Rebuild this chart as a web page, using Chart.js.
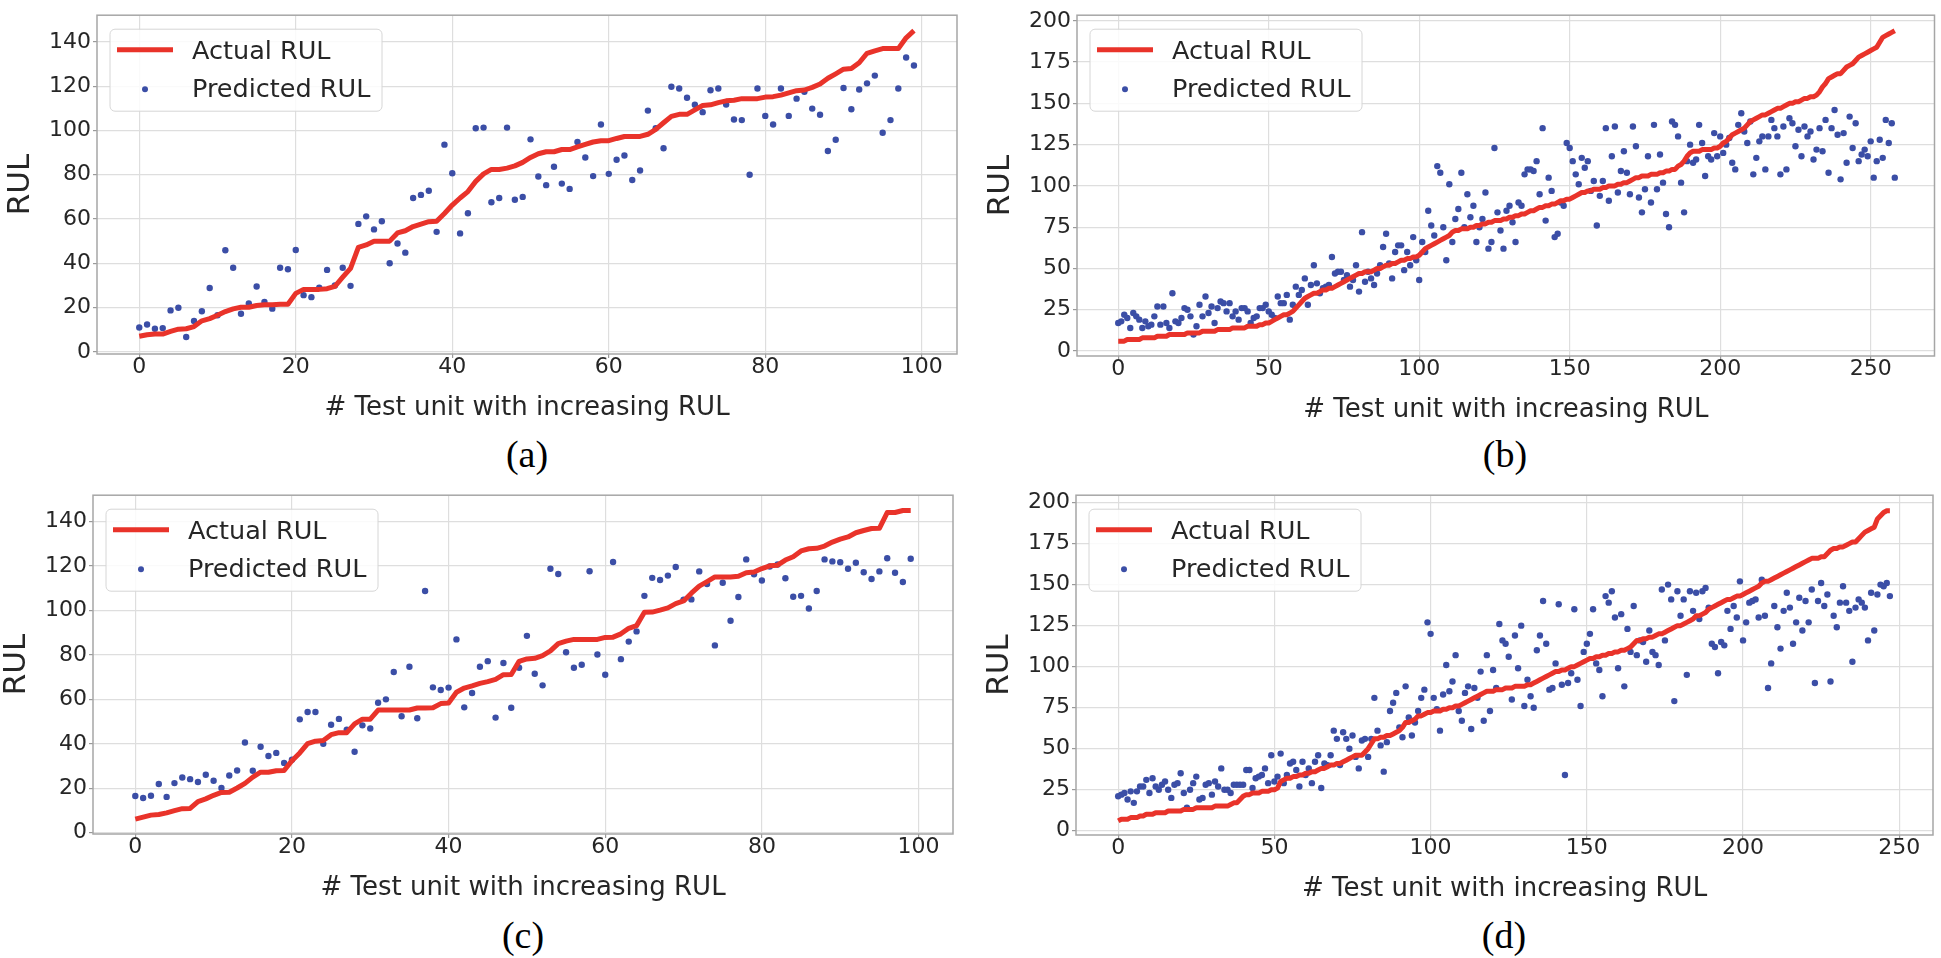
<!DOCTYPE html>
<html>
<head>
<meta charset="utf-8">
<title>RUL predictions</title>
<script src="https://cdn.jsdelivr.net/npm/chart.js@4.4.0/dist/chart.umd.min.js"></script>
<style>
  html, body { margin: 0; padding: 0; background: #fff; }
  body { width: 1941px; height: 958px; position: relative; overflow: hidden; }
  .panel { position: absolute; }
  .caption {
    position: absolute;
    font-family: "Liberation Serif", "Times New Roman", serif;
    font-size: 38px;
    line-height: 38px;
    color: #000;
    transform: translate(-50%, -50%);
  }
</style>
</head>
<body>
<div class="panel" id="boxA" style="left:0px;top:0px;width:960px;height:424px"><canvas id="chartA"></canvas></div>
<div class="panel" id="boxB" style="left:980px;top:0px;width:961px;height:426px"><canvas id="chartB"></canvas></div>
<div class="panel" id="boxC" style="left:-4px;top:480px;width:960px;height:424px"><canvas id="chartC"></canvas></div>
<div class="panel" id="boxD" style="left:979px;top:480px;width:962px;height:425px"><canvas id="chartD"></canvas></div>
<div class="caption" id="capA" style="left:527px;top:454px"></div>
<div class="caption" id="capB" style="left:1505px;top:454px"></div>
<div class="caption" id="capC" style="left:523px;top:935px"></div>
<div class="caption" id="capD" style="left:1504px;top:935px"></div>
<script>
// texts
const seriesLabels = ['Actual RUL', 'Predicted RUL'];
const xTitle = '# Test unit with increasing RUL';
const yTitle = 'RUL';
const captions = ['(a)', '(b)', '(c)', '(d)'];

// tick labels
const xTicksAC = [0, 20, 40, 60, 80, 100];
const yTicksAC = [0, 20, 40, 60, 80, 100, 120, 140];
const xTicksBD = [0, 50, 100, 150, 200, 250];
const yTicksBD = [0, 25, 50, 75, 100, 125, 150, 175, 200];

// (a) 100 test units
const actualA = [
  7, 7.7, 8, 8, 9.2, 10.2, 10.4, 11.4, 14, 15,
  16.5, 18.2, 19.4, 20.1, 20.1, 20.9, 21.3, 21.3, 21.5, 21.5,
  26.4, 28.2, 28.2, 28.2, 28.5, 29.6, 33.7, 37.7, 47.2, 48.3,
  50, 50, 50, 53.7, 54.7, 56.6, 57.7, 58.8, 59, 62.5,
  66.3, 69.5, 72.4, 77, 80.4, 82.4, 82.4, 83, 84, 85.6,
  87.8, 89.5, 90.4, 90.4, 91.4, 91.4, 92.6, 93.7, 94.8, 95.4,
  95.4, 96.4, 97.3, 97.3, 97.3, 98.3, 100.5, 103.5, 106.4, 107.3,
  107.3, 109.3, 111.3, 111.6, 112.6, 113.4, 113.7, 114.4, 114.4, 114.4,
  115.1, 115.3, 116, 117, 118, 118.3, 119.5, 121, 123.6, 125.6,
  127.7, 128, 130.6, 134.9, 136, 137, 137, 137, 141.9, 145.1
];
const predictedA = [
  11, 12.3, 10.4, 10.7, 18.7, 19.9, 6.7, 13.9, 18.3, 28.8,
  16.5, 45.9, 38, 17.2, 21.8, 29.5, 22.5, 19.5, 38, 37.3,
  46, 25.6, 24.7, 29, 37, 30, 38, 29.8, 57.8, 61.2,
  55.3, 59, 40, 48.9, 44.8, 69.5, 70.9, 72.8, 54.2, 93.6,
  80.7, 53.5, 62.6, 101, 101.3, 67.6, 69.5, 101.3, 68.7, 70,
  96, 79.2, 75.3, 83.6, 76, 73.6, 94.8, 87.8, 79.4, 102.7,
  80.4, 86.8, 88.7, 77.6, 81.9, 109, 101, 92, 119.8, 119,
  114.8, 111.6, 108.3, 118.2, 119, 111.7, 105, 104.7, 80, 119,
  106.6, 102.7, 119, 106.6, 114.4, 117.5, 109.9, 107.1, 90.7, 95.8,
  119.2, 109.6, 118.5, 121.3, 124.8, 99, 104.7, 119, 133, 129.4
];

// (b) 259 test units
const actualB = [
  6, 6, 6, 7, 7, 7, 7, 7, 8, 8,
  8, 8, 8, 9, 9, 9, 9, 10, 10, 10,
  10, 10, 10, 11, 11, 11, 11, 11, 12, 12,
  12, 12, 12, 13, 13, 13, 13, 13, 14, 14,
  14, 14, 14, 15, 15, 15, 15, 16, 16, 17,
  17, 18, 19, 20, 21, 22, 22, 23, 24, 26,
  28, 30, 32, 33, 34, 35, 35, 36, 37, 37,
  38, 38, 39, 40, 41, 42, 43, 44, 45, 46,
  47, 47, 48, 48, 48, 49, 50, 50, 51, 52,
  52, 53, 53, 54, 55, 55, 56, 56, 57, 57,
  58, 60, 62, 63, 64, 65, 66, 67, 68, 69,
  70, 72, 73, 73, 74, 74, 74, 75, 75, 76,
  76, 77, 77, 78, 78, 79, 79, 79, 80, 80,
  81, 81, 82, 82, 83, 83, 84, 85, 85, 86,
  87, 87, 88, 88, 89, 89, 90, 91, 91, 92,
  92, 93, 94, 95, 96, 96, 97, 97, 98, 98,
  98, 99, 99, 100, 100, 100, 101, 101, 102, 102,
  103, 104, 105, 105, 106, 106, 106, 107, 107, 107,
  108, 108, 109, 109, 110, 110, 112, 113, 115, 118,
  120, 121, 121, 121, 122, 122, 122, 122, 123, 123,
  124, 126, 127, 129, 131, 132, 133, 134, 135, 137,
  139, 140, 141, 142, 143, 143, 144, 145, 146, 147,
  147, 148, 149, 150, 150, 151, 151, 152, 153, 153,
  154, 154, 155, 157, 160, 162, 165, 166, 167, 168,
  168, 170, 172, 173, 174, 176, 178, 179, 180, 181,
  182, 183, 184, 187, 190, 191, 192, 193, 194
];
const predictedB = [
  17, 18, 22, 20, 14, 23, 21, 19, 14, 18,
  15, 16, 21, 27, 16, 27, 17, 14, 35, 18,
  17, 20, 26, 25, 21, 10, 15, 28, 21, 33,
  23, 27, 17, 26, 30, 29, 24, 29, 21, 24,
  19, 26, 26, 24, 17, 20, 21, 26, 26, 28,
  24, 22, 20, 33, 29, 29, 34, 19, 28, 39,
  34, 37, 44, 28, 40, 52, 41, 35, 38, 39,
  40, 57, 47, 48, 48, 43, 46, 39, 43, 52,
  36, 72, 42, 48, 44, 40, 47, 52, 63, 71,
  53, 44, 60, 64, 64, 49, 60, 52, 69, 55,
  43, 66, 60, 85, 76, 70, 112, 108, 75, 55,
  101, 66, 80, 86, 108, 75, 95, 81, 88, 66,
  75, 80, 96, 62, 66, 123, 84, 73, 62, 85,
  88, 78, 66, 90, 88, 107, 110, 110, 109, 115,
  95, 135, 79, 105, 97, 69, 71, 90, 88, 126,
  123, 115, 107, 101, 117, 111, 115, 97, 103, 76,
  94, 103, 135, 91, 118, 136, 96, 109, 121, 108,
  95, 136, 124, 93, 84, 98, 118, 90, 137, 98,
  119, 102, 83, 75, 139, 137, 130, 102, 84, 115,
  125, 114, 116, 137, 126, 106, 118, 116, 132, 118,
  130, 120, 125, 129, 114, 110, 137, 144, 133, 126,
  139, 107, 117, 127, 130, 110, 130, 140, 135, 130,
  107, 136, 110, 141, 138, 124, 134, 118, 136, 130,
  133, 116, 122, 135, 121, 140, 108, 135, 146, 131,
  104, 132, 114, 142, 123, 138, 115, 119, 122, 118,
  127, 105, 115, 128, 117, 140, 126, 138, 105
];

// (c) 100 test units
const actualC = [
  6.1, 7, 7.9, 8.2, 8.9, 9.9, 10.8, 10.9, 14, 15.2,
  16.8, 18.1, 18.2, 20.1, 22.2, 25, 27.2, 27.2, 27.9, 28,
  32.4, 35.9, 40.1, 41.2, 41.5, 44.1, 45, 45, 49, 51.1,
  51.1, 55.2, 55.2, 55.2, 55.2, 55.2, 56.1, 56.1, 56.2, 58.1,
  58.4, 63.2, 65.1, 66.1, 67.2, 68, 69, 71.1, 71.2, 77.1,
  78.2, 78.5, 79.7, 81.8, 85.1, 86.2, 87, 87, 87, 87,
  87.9, 88, 89.5, 92, 93.2, 99.2, 99.3, 100.2, 101.2, 103.1,
  104.3, 107.8, 111, 113, 115.1, 115.1, 115.1, 115.4, 117, 117.3,
  118.9, 120.1, 120.4, 122.7, 124.2, 126.8, 127.8, 128, 129, 130.8,
  132.1, 133.1, 135, 136, 136.9, 137, 144.1, 144.1, 145, 145
];
const predictedC = [
  16.5, 15.6, 16.6, 21.9, 16.1, 22.3, 24.8, 24.1, 22.8, 26.1,
  23.4, 20.1, 25.7, 28, 40.6, 27.9, 38.7, 34.5, 35.9, 31.4,
  32.8, 51, 54.3, 54.3, 40, 48.6, 51.2, 46.4, 36.4, 48.3,
  46.9, 58.5, 60, 72.3, 52.4, 74.7, 51.5, 108.8, 65.4, 64.2,
  65.3, 87, 56.4, 62.9, 74.7, 77.2, 51.8, 76.4, 56.2, 74.2,
  88.6, 71.5, 66.3, 118.8, 116.4, 81.2, 74.2, 75.6, 117.7, 80.2,
  71.1, 121.8, 78.1, 86, 90.6, 106.6, 114.7, 113.7, 115.7, 119.6,
  104.9, 105, 117.6, 111.9, 84.3, 112.5, 95.4, 106.1, 123, 116.3,
  113.5, 119.8, 120.7, 114.5, 106.2, 106.6, 100.9, 108.8, 123, 122.1,
  121.7, 118.8, 121.5, 117.2, 114.2, 117.6, 123.5, 117, 112.8, 123.3
];

// (d) 248 test units
const actualD = [
  6, 7, 7, 7, 8, 8, 8, 9, 9, 10,
  10, 10, 11, 11, 11, 11, 12, 12, 12, 12,
  12, 13, 13, 13, 13, 14, 14, 14, 14, 14,
  14, 15, 15, 15, 15, 15, 16, 17, 17, 19,
  21, 22, 22, 23, 23, 23, 24, 24, 24, 25,
  25, 26, 30, 31, 32, 32, 33, 33, 34, 34,
  35, 35, 36, 36, 37, 38, 38, 39, 40, 40,
  41, 41, 42, 43, 44, 45, 46, 46, 46, 48,
  50, 53, 56, 56, 57, 57, 58, 58, 59, 60,
  61, 63, 66, 66, 67, 68, 70, 70, 71, 72,
  72, 73, 73, 73, 74, 74, 75, 75, 76, 76,
  77, 78, 79, 80, 81, 82, 83, 84, 85, 85,
  85, 86, 86, 86, 87, 87, 87, 88, 88, 88,
  88, 89, 89, 90, 91, 92, 93, 94, 95, 96,
  97, 97, 98, 98, 99, 100, 100, 101, 102, 103,
  104, 105, 105, 106, 106, 107, 107, 108, 108, 109,
  109, 110, 110, 111, 112, 114, 116, 116, 117, 117,
  118, 118, 119, 120, 120, 121, 122, 123, 124, 125,
  125, 126, 127, 128, 129, 131, 131, 132, 133, 135,
  136, 137, 138, 139, 140, 141, 141, 142, 143, 143,
  144, 145, 146, 147, 148, 149, 151, 152, 152, 153,
  154, 155, 156, 157, 158, 159, 160, 161, 162, 163,
  164, 165, 166, 166, 166, 167, 167, 169, 171, 172,
  172, 173, 173, 174, 175, 176, 176, 178, 180, 182,
  183, 184, 185, 190, 192, 194, 195, 195
];
const predictedD = [
  21, 22, 23, 19, 24, 17, 24, 27, 27, 31,
  23, 32, 27, 25, 28, 30, 25, 20, 28, 29,
  35, 23, 14, 25, 29, 33, 19, 20, 28, 29,
  22, 30, 27, 38, 25, 25, 23, 28, 28, 28,
  28, 37, 37, 26, 32, 33, 34, 38, 29, 46,
  30, 33, 47, 29, 34, 41, 42, 37, 27, 42,
  34, 38, 29, 42, 46, 26, 41, 40, 46, 61,
  56, 40, 60, 56, 50, 58, 45, 38, 55, 56,
  45, 56, 81, 61, 52, 36, 54, 73, 78, 84,
  63, 57, 88, 69, 58, 66, 73, 81, 86, 127,
  120, 81, 74, 61, 83, 101, 85, 91, 107, 73,
  67, 84, 88, 62, 87, 81, 97, 67, 107, 73,
  98, 87, 126, 116, 114, 106, 80, 119, 99, 125,
  76, 92, 82, 75, 110, 119, 140, 114, 86, 87,
  102, 138, 89, 34, 90, 96, 135, 92, 76, 109,
  114, 120, 135, 102, 98, 82, 143, 139, 146, 130,
  99, 132, 88, 123, 109, 137, 107, 116, 115, 103,
  122, 109, 107, 101, 147, 116, 150, 141, 79, 146,
  131, 141, 95, 146, 134, 145, 129, 146, 148, 136,
  114, 112, 96, 115, 113, 134, 123, 137, 130, 152,
  116, 127, 139, 140, 141, 130, 153, 131, 87, 102,
  137, 124, 111, 134, 145, 136, 114, 127, 142, 122,
  140, 127, 147, 90, 140, 151, 137, 144, 91, 131,
  124, 139, 149, 139, 134, 103, 136, 141, 139, 136,
  116, 145, 122, 144, 150, 149, 151, 143
];

const RED = '#e9332a';
const BLUE = '#3b4ea6';
const INK = '#262626';
const FONT = '"DejaVu Sans", sans-serif';

// full box around the plot area, like matplotlib spines
const framePlugin = {
  id: 'frame',
  afterDatasetsDraw(chart) {
    const { ctx, chartArea: a } = chart;
    ctx.save();
    ctx.strokeStyle = '#a6a6a6';
    ctx.lineWidth = 1.5;
    ctx.strokeRect(a.left, a.top, a.right - a.left, a.bottom - a.top);
    ctx.restore();
  }
};

// legend drawn inside the upper left corner
const insideLegend = {
  id: 'insideLegend',
  afterDraw(chart) {
    const { ctx, chartArea: a } = chart;
    const [line, dots] = chart.data.datasets;
    const x0 = a.left + 13, y0 = a.top + 14, w = 272, h = 82;
    ctx.save();
    ctx.beginPath();
    if (ctx.roundRect) ctx.roundRect(x0, y0, w, h, 5); else ctx.rect(x0, y0, w, h);
    ctx.fillStyle = 'rgba(255,255,255,0.85)';
    ctx.fill();
    ctx.strokeStyle = '#d6d6d6';
    ctx.lineWidth = 1;
    ctx.stroke();

    ctx.strokeStyle = line.borderColor;
    ctx.lineWidth = 5;
    ctx.beginPath();
    ctx.moveTo(x0 + 7, y0 + 20.5);
    ctx.lineTo(x0 + 63, y0 + 20.5);
    ctx.stroke();

    ctx.fillStyle = dots.backgroundColor;
    ctx.beginPath();
    ctx.arc(x0 + 35, y0 + 60, 3, 0, Math.PI * 2);
    ctx.fill();

    ctx.fillStyle = INK;
    ctx.font = '25.5px ' + FONT;
    ctx.textBaseline = 'alphabetic';
    ctx.fillText(line.label, x0 + 82, y0 + 29.5);
    ctx.fillText(dots.label, x0 + 82, y0 + 67.3);
    ctx.restore();
  }
};

function toPoints(values) {
  return values.map((v, i) => ({ x: i, y: v }));
}

function makeChart(id, actual, predicted, xTicks, yTicks, xRange, yRange, pad) {
  const ctx = document.getElementById(id).getContext('2d');
  return new Chart(ctx, {
    type: 'scatter',
    data: {
      datasets: [
        {
          type: 'line',
          label: seriesLabels[0],
          data: toPoints(actual),
          borderColor: RED,
          backgroundColor: RED,
          borderWidth: 5,
          borderJoinStyle: 'round',
          pointRadius: 0,
          pointHoverRadius: 0,
          tension: 0,
          fill: false,
          order: 0
        },
        {
          type: 'scatter',
          label: seriesLabels[1],
          data: toPoints(predicted),
          backgroundColor: BLUE,
          borderWidth: 0,
          pointRadius: 3.2,
          pointHoverRadius: 3.2,
          order: 1
        }
      ]
    },
    options: {
      responsive: true,
      maintainAspectRatio: false,
      animation: false,
      events: [],
      layout: { autoPadding: false, padding: { left: 0, top: pad.top, right: pad.right, bottom: 0 } },
      plugins: { legend: { display: false }, tooltip: { enabled: false } },
      scales: {
        x: {
          type: 'linear',
          min: xRange[0],
          max: xRange[1],
          afterBuildTicks: (scale) => { scale.ticks = xTicks.map(v => ({ value: v })); },
          afterFit: (scale) => { scale.height = 70; },
          ticks: {
            autoSkip: false,
            maxRotation: 0,
            padding: -2,
            color: INK,
            font: { family: FONT, size: 22, lineHeight: 1 }
          },
          grid: { color: '#dedede', lineWidth: 1.2, tickLength: 4, tickColor: '#9a9a9a', tickWidth: 1.2 },
          border: { display: false },
          title: {
            display: true,
            text: xTitle,
            color: INK,
            padding: 0,
            font: { family: FONT, size: 26, lineHeight: 1.2 }
          }
        },
        y: {
          type: 'linear',
          min: yRange[0],
          max: yRange[1],
          afterBuildTicks: (scale) => { scale.ticks = yTicks.map(v => ({ value: v })); },
          afterFit: (scale) => { scale.width = 97; },
          ticks: {
            autoSkip: false,
            padding: 2,
            color: INK,
            font: { family: FONT, size: 22 }
          },
          grid: { color: '#dedede', lineWidth: 1.2, tickLength: 4, tickColor: '#9a9a9a', tickWidth: 1.2 },
          border: { display: false },
          title: {
            display: true,
            text: yTitle,
            color: INK,
            padding: { top: 2, bottom: 0 },
            font: { family: FONT, size: 31, lineHeight: 1.2 }
          }
        }
      }
    },
    plugins: [framePlugin, insideLegend]
  });
}

makeChart('chartA', actualA, predictedA, xTicksAC, yTicksAC, [-5.4, 104.5], [-1, 152.1], { top: 5, right: 3 });
makeChart('chartB', actualB, predictedB, xTicksBD, yTicksBD, [-13.7, 271.2], [-3, 203.4], { top: 7, right: 6.5 });
makeChart('chartC', actualC, predictedC, xTicksAC, yTicksAC, [-5.4, 104.4], [-0.6, 151.9], { top: 6, right: 3 });
makeChart('chartD', actualD, predictedD, xTicksBD, yTicksBD, [-13.5, 260.8], [-2.6, 204.5], { top: 8, right: 8 });

['capA', 'capB', 'capC', 'capD'].forEach((id, i) => {
  document.getElementById(id).textContent = captions[i];
});
</script>
</body>
</html>
